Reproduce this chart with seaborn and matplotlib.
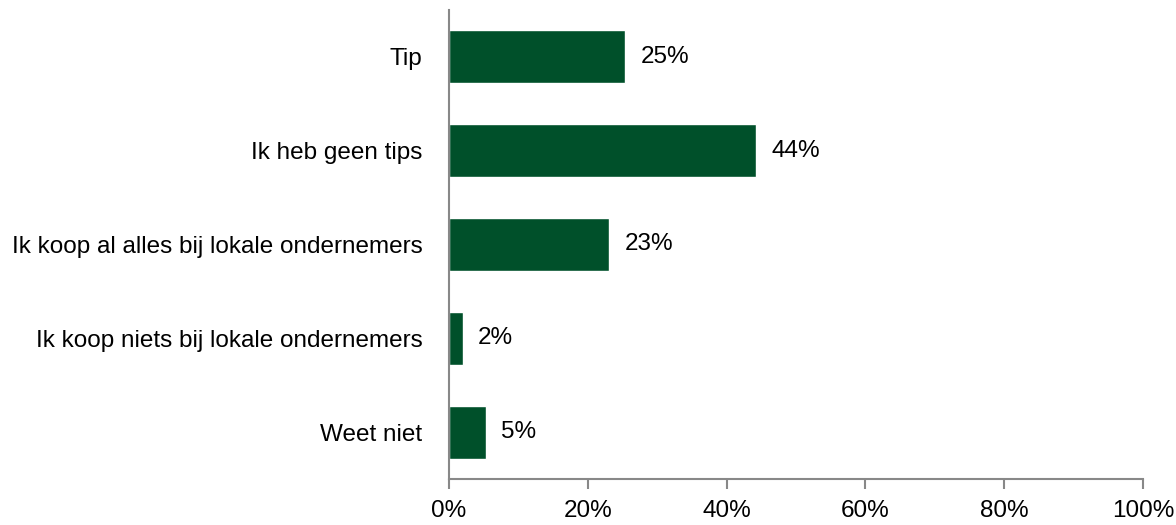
import matplotlib
matplotlib.use('Agg')
import matplotlib.pyplot as plt
import seaborn as sns
import pandas as pd

categories = ['Tip', 'Ik heb geen tips', 'Ik koop al alles bij lokale ondernemers',
              'Ik koop niets bij lokale ondernemers', 'Weet niet']
values = [25.4, 44.2, 23.1, 2.0, 5.3]
value_labels = ['25%', '44%', '23%', '2%', '5%']
x_ticks = [0, 20, 40, 60, 80, 100]

sns.set_style('white')
plt.rcParams['font.family'] = ['Liberation Sans', 'DejaVu Sans']
plt.rcParams['text.color'] = 'black'
plt.rcParams['xtick.labelcolor'] = 'black'
plt.rcParams['ytick.labelcolor'] = 'black'

df = pd.DataFrame({'antwoord': categories, 'pct': values})

fig = plt.figure(figsize=(11.76, 5.25), dpi=100)
ax = fig.add_axes([0.3818, 0.0876, 0.5901, 0.8934])

sns.barplot(data=df, y='antwoord', x='pct', orient='h', color='#00502A',
            saturation=1, width=0.565, ax=ax)
ax.bar_label(ax.containers[0], labels=value_labels, padding=11, fontsize=17.5,
             color='black')

ax.set_xlim(0, 100)
ax.set_ylim(4.5, -0.5)
ax.set_xticks(x_ticks)
ax.set_xticklabels([f'{t}%' for t in x_ticks], fontsize=17.5)
ax.tick_params(axis='x', direction='out', length=7, width=1.5, color='#888888',
               pad=8, bottom=True)
ax.tick_params(axis='y', length=0, pad=19, labelsize=17.5)
ax.set_xlabel('')
ax.set_ylabel('')

sns.despine(ax=ax, top=True, right=True)
for side in ['left', 'bottom']:
    ax.spines[side].set_color('#888888')
    ax.spines[side].set_linewidth(1.5)

fig.savefig('out.png', dpi=100)
